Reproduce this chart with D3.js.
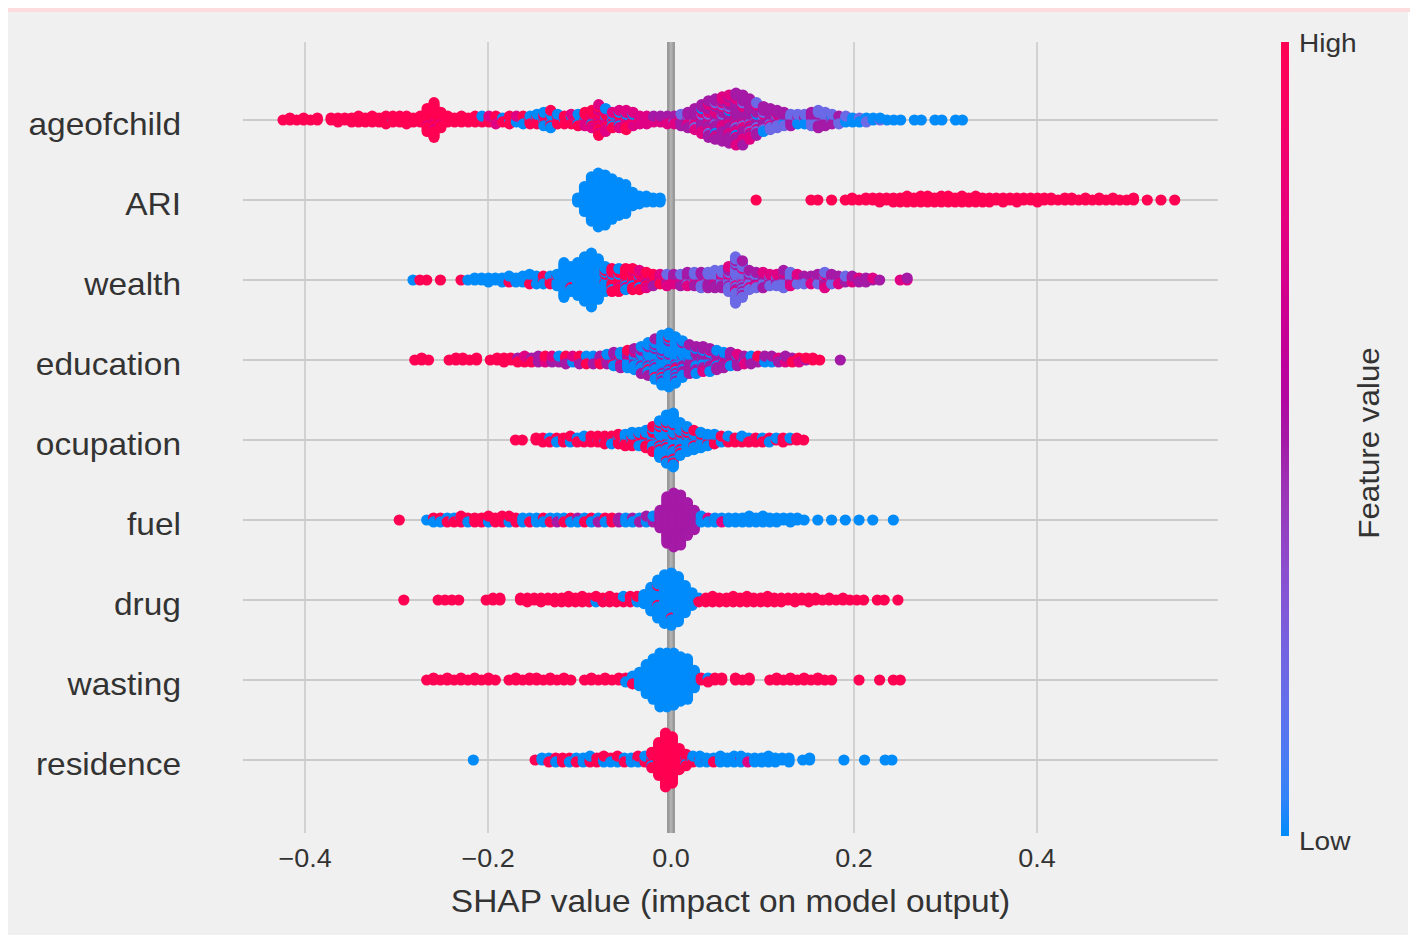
<!DOCTYPE html>
<html>
<head>
<meta charset="utf-8">
<script src="https://cdn.jsdelivr.net/npm/d3@7"></script>
<style>
  body { margin: 0; background: #fff; }
  svg { display: block; }
  text { font-family: "Liberation Sans", Arial, sans-serif; fill: #333; }
</style>
</head>
<body>
<script>
// features, top to bottom
var features = ["ageofchild", "ARI", "wealth", "education", "ocupation", "fuel", "drug", "wasting", "residence"];
// SHAP value of the first bin of each row, bins are binWidth wide
var binStart = [-0.424, -0.102, -0.282, -0.280, -0.170, -0.297, -0.292, -0.267, -0.216];
var binWidth = 0.0075;
var xTicks = [-0.4, -0.2, 0.0, 0.2, 0.4];
// feature value codes: b low .. r high
var valueCodes = {b: 0, c: 0.2, p: 0.5, m: 0.75, r: 1};

// one string per bin, run-length coded feature values (char + count)
var ageofchild = ["r","r2","r","r2","r","r2","","r2","r3","r2",
  "r3","r4","r3","r4","r3","r5","br3","r4","r5","r3",
  "r4","r6mr6","r4mr5mr8","r4mr4","r4","r3","r4","r3","rmr2","rmrb",
  "rbrm","br3m","rbr","mrbr2","r2bm","br3b","rmrbr","b2r3b","rb2mr2b2","bmr2b2rb2r",
  "rbmr2b","mrbr2","r2mbrm","brmrb2r","mr2bmrmr","rm2rbmr2mr","mrmrm2r2m2rmr2m2r","mrmbmrmr2m2bm","rb2mrb2mr","mb2rmrb2m2",
  "rm2rmbm2rmr","m2rmrbm2","m2rm2","mpm3","mpmp","pm2p","mpmpm","pmcpm","pmpmpcp","pmpcmpmp2",
  "mpcpmpmpcpmp","pmpmpcpmpmpbmpmp","pmp2mcpmpmp2mpcmpmp2","mpmpcp2mpmpmp2bmpcmp3","pmp3cmpmpmp2mpcpmp3mpm","mp3mpmp2bpmpcmpmp2mpmp3m","pmpmp2mpcp3mpmpbpmp2mpmp2mp","pmp2mpcpmpmp2mpmpcp2mpmpmp2","p2mpcpmp3mpcpmp3mpmp","pcpmpbp2cpmpcp2mpc",
  "pcpcpmpcp2cpbp","cp3cpmpcpcp","pcpcpmcpcp","cpcpbpcp","pcpcpcp","pc2pbc","cpcpbc","cpcpcpcp","cpcpcp2cpc","pcpcpcpc",
  "cpcbpc","cbcpc","bcbc","cb2","bcb","b2c","b2","cb","b","b",
  "b","","b","b","","b","b","","b","b"];

var ARI = ["b3","b14","b24","b29","b27","b22","b18","b16","b8","b5",
  "b4","b3","b3","","","","","","","",
  "","","","","","","r","","","",
  "","","","","r","r","","r","","r",
  "r2","r","r2","r2","r3","r2","r3","r3","r4","r3",
  "r4","r4","r3","r4","r4","r3","r4","r3","r4","r3",
  "r3","r2","r3","r2","r3","r2","r2","r3","r2","r2",
  "r","r2","r2","r","r2","r","r2","r","r2","r",
  "r","r2","","r","","r","","r"];

var wealth = ["b","r","r","","r","","","r","b","b2",
  "b2","b3","b2","b3","b2rb","b3","b4","b4rb","b2rb2","rbr2b",
  "br2br","rb2rb3","b19","b8rb5","b18","b24","b29","b22","b2rb2rb3rb4","r2br2brmr2br2",
  "rbr3br2mr2br","r2bmr2brmrbr","rbr2mrbr2mr2","mr2brmr2bmr","r2mrpmr2m","mrpmr2p","rmpmrm","mpmrpcm","pmrpmp","cpmpmcp",
  "pcmpcpmp","cpcpmcpc","pcpcmpcpc","cpcmpcpcp","pcpcmcpcpc","cpcpcmpcpc","pc2pcmpc2pcpcm","c3pc2mc3pcmc2pc3pc3c2","cpc2mc3pc2mpc3pc2p","pcmpcpc2mpc",
  "cpmcpcmpc","pcmpcpcmp","cpmcpmc","mcpcpmc","cpcmcpcmcp","pcmcpcmc","cpmpcm","pmcpc","mpcpm","pcmpcp",
  "cpmcpmpcm","pcmpcp","mpcpm","pmpc","cpmp","pmp","mp2","pm","p","",
  "","m","mp"];

var education = ["r","r2","r","","","r","r2","r2","r","r2",
  "","r","r2","r3","r2","rpr","pr2m","rpr","mrp2","rpmr",
  "prpm","rmpb","mrprp","rpbm","prmrp","mrpbr","prmbp","rpmpr","bpmrpb","pbmbrpbp",
  "bpbrpbmbp","bpbpbmbpbr","b2pbpb2pbmbp","b3pb2pb2pbpb2p","b3pb2pb3rb2pb2pb","b4pb3pb2pb3pb2rb2p","b5pb3pb4pb3rb3pb3b","b5pb4pb3pb4pb3rb4b","b4pb3pbrb3pb3pb3pb2","b3pb2pbpb3pbpb2pb2",
  "bpb2pbpbpbpbpbp2","pbpbp2bpbp2bp2b","pbp2bpbp2bp2mp","p2bpbp2bpmp2b","pbp2mpbp2bp","p2bpmp2bp","pbp2mpbp","pmpbpmp","mpbpm","pmpbp",
  "pmpr","mpbp","p2bp","pmp","pbmp","mpr","prm","pr","r2","r",
  "","","p"];

var ocupation = ["r","r","","r2","r3","rbr","r2b","br2","r2br","rbr",
  "r3b","rbr2","br3","r2br2","rbr2b","br2br2","r2b2rbr","brbr2brb","rbrbr2b2","brbrbr2brb",
  "b2rbrb2rbrb2r2","b3rb2rb3rb2rb3rb2","b4rb3rb4rb3rb4rb3","b5rb4rb4rb4rb3rb2b2","b3rb3rb2rb3rb3","b3rb3rb3rb2","b3rb2rb2rb","b2rb2rb3","brb2rb2","b2rbrb",
  "brbr","rbrb","br2","rbrb","rbr","br2","rbr","r2b","rb","br2",
  "rb","r2","r"];

var fuel = ["r","","","","b","brb","r2b","rbr","b2r","rbr2",
  "r2b","br2","r3","r2br","r3","r4","r2br","r3","b3","b2r",
  "b3","brb","b2r","rbp","b2r","brb","rpb","b2r","prb","pbp",
  "r2b","br2","bp2","pb2","bpb","b2p","pb2p","bp2b","p10","p25",
  "p29","p27","p18","p11","bpb2","bmb","rb2","b2m","b3","b3",
  "b3","b4","b3","b4","b3","b3","b2","b3","b2","b",
  "","b","","b","","b","","b","","b",
  "","","b"];

var drug = ["r","","","","","r","r","r","r","",
  "","","r","r2","r2","","","r2","r3","r2",
  "r3","r2","r3","r3","r4","r3","r4","r3","r2br","r3",
  "rbr2","br2","rbrb","b2r2","b3r","b6","b14","b6rb8rb6","b28","rb19rb9",
  "b26","b16","b8","rbr","r3","r4","r3","r3","r4","r3",
  "r4","r3","r3","r4","r3","r3","r2","r3","r2","r3",
  "r2","r","r2","r","r2","r","r","r","","r",
  "r","","r"];

var wasting = ["r","r2","r","r2","r","r2","r","r2","r","r2",
  "r","","r","r2","r","r2","r2","r","r2","r",
  "r2","r","","r","r2","r","r2","r","r2","r2b",
  "b4r","b8","b16","b22","b29","b29","b28","b24","b22","b10",
  "r2","rbr","r2","r2","","r2","r","r2","","",
  "r","r2","r","r2","r","r2","r","r2","r","r",
  "","","","r","","","r","","r","r"];

var residence = ["b","","","","","","","","","r",
  "b2","b2r","r2b","r3","brb","b2r","rb2","rbrb","br2","b3r",
  "r2b","brbr","b2r","rb2","r2br","br2b","r3br2br2","r18","r29","r25",
  "r12","rbr2br2","b2rb","brb2","rb2","b2r","b4","b3","b4","bmb2",
  "b2m","b3","b3","b4","b3","b2","b3","","b","b2",
  "","","","","b","","","b","","",
  "b","b"];

var rows = [ageofchild, ARI, wealth, education, ocupation, fuel, drug, wasting, residence];

var w = 1417;
var h = 943;
var sx = 1.08; // glyphs in the picture are a bit wider than Liberation Sans

var svg = d3.select("body").append("svg")
  .attr("width", w)
  .attr("height", h);

// background
svg.append("rect").attr("width", w).attr("height", h).attr("fill", "#fff");
svg.append("rect").attr("x", 8).attr("y", 8).attr("width", 1402).attr("height", 4).attr("fill", "#fcdcdc");
svg.append("rect").attr("x", 8).attr("y", 12).attr("width", 1400).attr("height", 923).attr("fill", "#f0f0f0");

var x = d3.scaleLinear().domain([-0.4, 0.4]).range([305, 1037]);
var y = d3.scalePoint().domain(features).range([120, 760]);
var plotLeft = 243, plotRight = 1218, plotTop = 42, plotBottom = 833;

// colours like shap red_blue: lch path with a darker middle
var lo = d3.hcl("#008bfb"), hi = d3.hcl("#ff0052");
function fvColor(t) {
  var hh = lo.h + (hi.h + 360 - lo.h) * t;
  var cc = lo.c + (hi.c - lo.c) * t;
  var ll = t < 0.5 ? lo.l + (40 - lo.l) * t * 2 : 40 + (hi.l - 40) * (t - 0.5) * 2;
  return d3.hcl(hh % 360, cc, ll).formatHex();
}

function expand(bin) {
  var out = [];
  bin.replace(/([a-z])(\d*)/g, function(s, ch, n) {
    var k = n ? +n : 1;
    for (var j = 0; j < k; j++) out.push(valueCodes[ch]);
    return s;
  });
  return out;
}

// grid
var grid = svg.append("g").attr("class", "grid");
grid.selectAll("line.v")
  .data(xTicks.filter(function(d) { return d !== 0; }))
  .enter().append("line")
  .attr("x1", function(d) { return x(d); })
  .attr("x2", function(d) { return x(d); })
  .attr("y1", plotTop).attr("y2", plotBottom)
  .attr("stroke", "#cbcbcb").attr("stroke-width", 1.6);

grid.selectAll("line.h")
  .data(features)
  .enter().append("line")
  .attr("x1", plotLeft).attr("x2", plotRight)
  .attr("y1", function(d) { return y(d); })
  .attr("y2", function(d) { return y(d); })
  .attr("stroke", "#cbcbcb").attr("stroke-width", 2);

// zero line
grid.append("line")
  .attr("x1", x(0)).attr("x2", x(0))
  .attr("y1", plotTop).attr("y2", plotBottom)
  .attr("stroke", "#9a9a9a").attr("stroke-width", 8);
grid.append("line")
  .attr("x1", x(0)).attr("x2", x(0))
  .attr("y1", plotTop).attr("y2", plotBottom)
  .attr("stroke", "#b0b0b0").attr("stroke-width", 3);

// beeswarm points
var points = [];
var rowGap = y.step();
rows.forEach(function(bins, r) {
  var stacks = bins.map(expand);
  var maxOff = d3.max(stacks, function(s) { return Math.ceil((s.length - 1) / 2); });
  var step = 0.36 * rowGap / (maxOff + 1);
  stacks.forEach(function(vals, i) {
    var shap = binStart[r] + i * binWidth;
    vals.forEach(function(v, layer) {
      var off = Math.ceil(layer / 2) * (layer % 2 ? 1 : -1);
      points.push({shap: shap, row: features[r], off: off * step, value: v});
    });
  });
});

svg.append("g").attr("class", "dots")
  .selectAll("circle")
  .data(points)
  .enter().append("circle")
  .attr("cx", function(d) { return x(d.shap); })
  .attr("cy", function(d) { return y(d.row) - d.off; })
  .attr("r", 5.6)
  .attr("fill", function(d) { return fvColor(d.value); });

// feature labels
svg.append("g").selectAll("text")
  .data(features)
  .enter().append("text")
  .attr("transform", function(d) { return "translate(181," + (y(d) + 15) + ") scale(" + sx + ",1)"; })
  .attr("text-anchor", "end")
  .attr("font-size", 31)
  .text(function(d) { return d; });

// x axis tick labels
svg.append("g").selectAll("text")
  .data(xTicks)
  .enter().append("text")
  .attr("transform", function(d) { return "translate(" + x(d) + ",867) scale(" + sx + ",1)"; })
  .attr("text-anchor", "middle")
  .attr("font-size", 25)
  .text(function(d) { return d3.format(".1f")(d).replace("-", "\u2212"); });

svg.append("text")
  .attr("transform", "translate(" + ((plotLeft + plotRight) / 2) + ",912) scale(" + sx + ",1)")
  .attr("text-anchor", "middle")
  .attr("font-size", 31)
  .text("SHAP value (impact on model output)");

// colour bar
var defs = svg.append("defs");
var grad = defs.append("linearGradient").attr("id", "cbar")
  .attr("x1", 0).attr("y1", 1).attr("x2", 0).attr("y2", 0);
grad.selectAll("stop")
  .data(d3.range(0, 1.0001, 0.05))
  .enter().append("stop")
  .attr("offset", function(d) { return d; })
  .attr("stop-color", function(d) { return fvColor(d); });

svg.append("rect")
  .attr("x", 1281).attr("y", 42)
  .attr("width", 8).attr("height", 794)
  .attr("fill", "url(#cbar)");

svg.append("text")
  .attr("transform", "translate(1299,52) scale(" + sx + ",1)")
  .attr("font-size", 26)
  .text("High");
svg.append("text")
  .attr("transform", "translate(1299,850) scale(" + sx + ",1)")
  .attr("font-size", 26)
  .text("Low");
svg.append("text")
  .attr("transform", "translate(1379,443) rotate(-90) scale(" + sx + ",1)")
  .attr("text-anchor", "middle")
  .attr("font-size", 29)
  .text("Feature value");
</script>
</body>
</html>
